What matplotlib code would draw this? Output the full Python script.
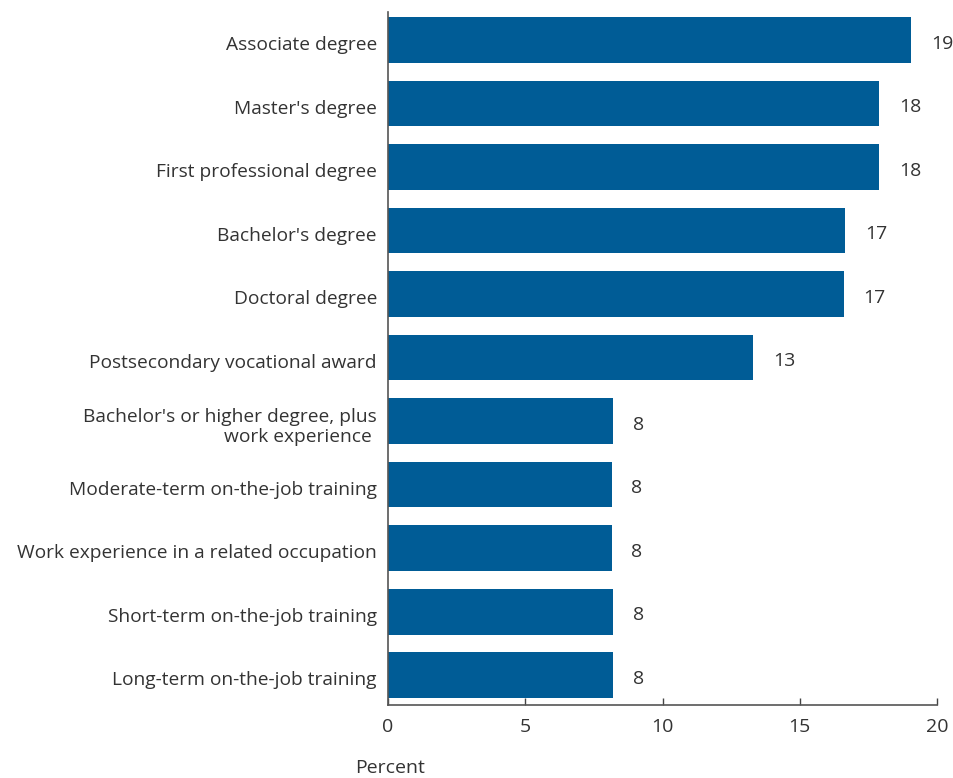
import matplotlib
matplotlib.use("Agg")
import matplotlib.pyplot as plt

# Education/training categories, top to bottom
categories = [
    "Associate degree",
    "Master's degree",
    "First professional degree",
    "Bachelor's degree",
    "Doctoral degree",
    "Postsecondary vocational award",
    "Bachelor's or higher degree, plus\nwork experience ",
    "Moderate-term on-the-job training",
    "Work experience in a related occupation",
    "Short-term on-the-job training",
    "Long-term on-the-job training",
]
values = [19.05, 17.9, 17.9, 16.65, 16.6, 13.3, 8.2, 8.15, 8.15, 8.2, 8.2]
labels = ["19", "18", "18", "17", "17", "13", "8", "8", "8", "8", "8"]

plt.rcParams['font.family'] = ['Open Sans', 'DejaVu Sans']
bar_color = '#005c96'
text_color = '#333333'

fig = plt.figure(figsize=(9.54, 7.78), dpi=100)
ax = fig.add_axes([0.4067, 0.0938, 0.5755, 0.8908])

n = len(categories)
ypos = [n - 1 - i for i in range(n)]
ax.barh(ypos, values, height=0.72, color=bar_color)

for y, v, lab in zip(ypos, values, labels):
    ax.text(v + 0.72, y - 0.06, lab, va='center', ha='left', fontsize=14, color=text_color)

ax.set_xlim(0, 20)
ax.set_ylim(-0.47, n - 1 + 0.44)
ax.set_yticks([y - 0.05 for y in ypos])
ax.set_yticklabels(categories, fontsize=13.8, color=text_color, ha='right', multialignment='right',
                   linespacing=1.1)
ax.tick_params(axis='y', length=0, pad=8)
ax.set_xticks([0, 5, 10, 15, 20])
ax.tick_params(axis='x', direction='in', length=5, width=1, colors='#444444', labelcolor=text_color,
               labelsize=14, pad=9)

for side in ['top', 'right']:
    ax.spines[side].set_visible(False)
for side in ['left', 'bottom']:
    ax.spines[side].set_color('#555555')
    ax.spines[side].set_linewidth(1.2)

fig.text(355 / 954, 1 - 768 / 778, "Percent", fontsize=14, color=text_color, va='center', ha='left')

plt.savefig("out.png", dpi=100)
plt.close()
